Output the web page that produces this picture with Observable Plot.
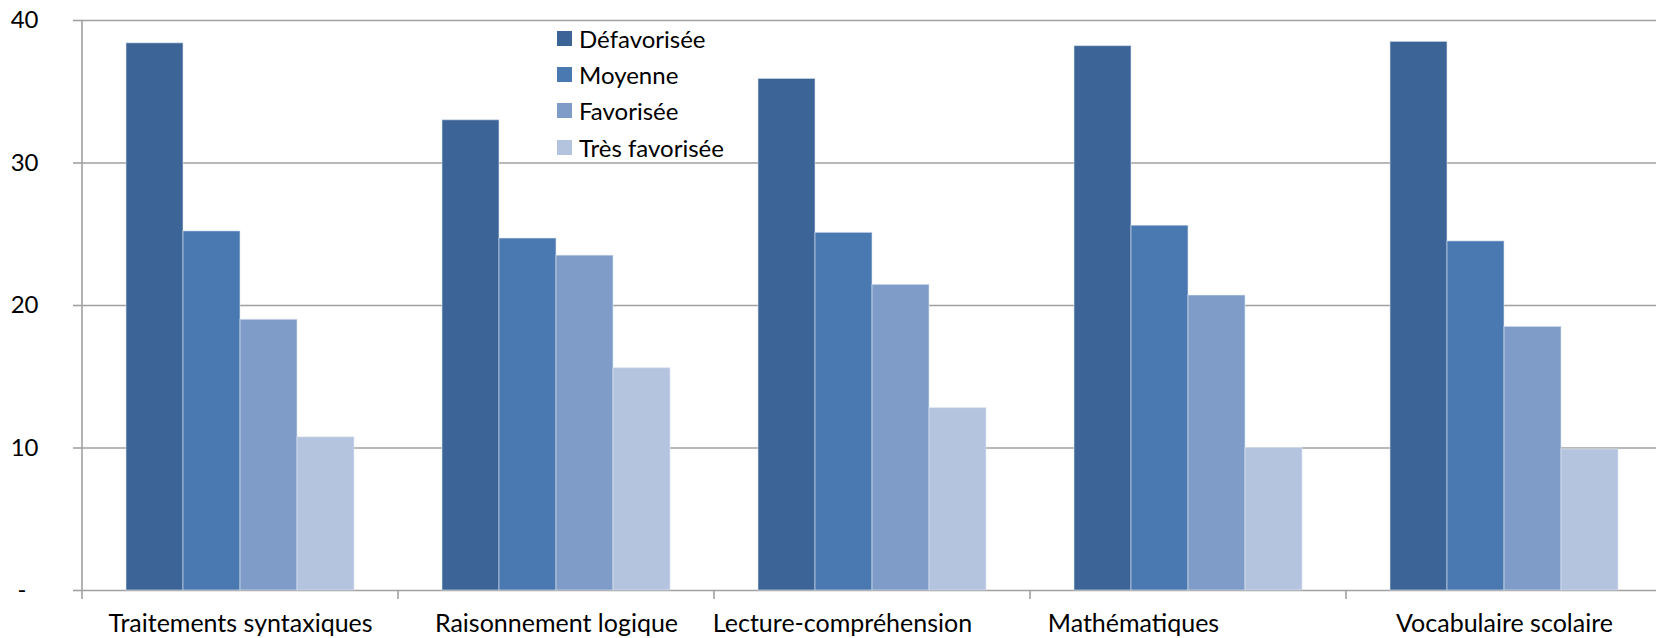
<!DOCTYPE html>
<html>
<head>
<meta charset="utf-8">
<script src="https://cdn.jsdelivr.net/npm/d3@7"></script>
<script src="https://cdn.jsdelivr.net/npm/@observablehq/plot@0.6"></script>
<style>
  body { margin: 0; background: white; }
  #wrap { position: relative; width: 1656px; height: 638px; overflow: hidden; font-family: Lato, sans-serif; }
  #legend { position: absolute; left: 557px; top: 23px; }
  .row { position: absolute; left: 0; height: 30px; display: flex; align-items: center; white-space: nowrap; font-size: 24px; color: #000; }
  .sw { width: 15px; height: 15px; margin-right: 7px; }
</style>
</head>
<body>
<div id="wrap"><div id="legend"></div></div>
<script>
const categories = ["Traitements syntaxiques", "Raisonnement logique", "Lecture-compréhension", "Mathématiques", "Vocabulaire scolaire"];
const series = ["Défavorisée", "Moyenne", "Favorisée", "Très favorisée"];
const defavorisee = [38.4, 33.0, 35.9, 38.2, 38.5];
const moyenne = [25.2, 24.7, 25.1, 25.6, 24.5];
const favorisee = [19.0, 23.5, 21.45, 20.7, 18.5];
const tresFavorisee = [10.75, 15.6, 12.8, 10.0, 9.9];
const colors = ["#3D6496", "#4A78B0", "#7F9CC8", "#B4C4DE"];
const yTicks = [0, 10, 20, 30, 40];

const seriesValues = [defavorisee, moyenne, favorisee, tresFavorisee];
const data = [];
categories.forEach((c, i) => series.forEach((s, j) => data.push({category: c, series: s, value: seriesValues[j][i]})));

const gridColor = "#a0a0a0";
const fxAxis = (ticks, dx) => Plot.axisFx({ticks, anchor: "bottom", tickSize: 0, tickPadding: 24, fontSize: 25, fill: "#000", label: null, dx});
const plot = Plot.plot({
  width: 1656,
  height: 638,
  marginLeft: 82,
  marginRight: -6,
  marginTop: 20,
  marginBottom: 48,
  style: {fontFamily: "Lato, sans-serif", fontSize: "24px", color: "#000", background: "white"},
  fx: {domain: categories, padding: 0, label: null},
  x: {domain: series, paddingInner: 0, paddingOuter: 0.76, axis: null, label: null},
  y: {domain: [0, 40], label: null},
  color: {domain: series, range: colors},
  marks: [
    Plot.ruleY(yTicks, {stroke: gridColor, strokeWidth: 1.6}),
    Plot.barY(data, {fx: "category", x: "series", y: "value", fill: "series", stroke: "#dfe7f3", strokeOpacity: 0.6, strokeWidth: 1}),
    Plot.axisY({ticks: yTicks, tickSize: 9, tickPadding: 35, stroke: gridColor, strokeWidth: 1.6, fontSize: 24, fill: "#000",
      tickFormat: d => d === 0 ? "-\u2002" : String(d)}),
    fxAxis([categories[0], categories[1], categories[4]], 0),
    fxAxis([categories[2]], -30),
    fxAxis([categories[3]], -55)
  ]
});

const svg = d3.select(plot);
const fx = plot.scale("fx");
const y = plot.scale("y");
const y0 = y.apply(0), y40 = y.apply(40);
const left = fx.apply(categories[0]);
svg.append("line").attr("x1", left).attr("x2", left).attr("y1", y40).attr("y2", y0 + 9)
  .attr("stroke", gridColor).attr("stroke-width", 1.6);
categories.forEach(c => {
  const xx = fx.apply(c) + fx.bandwidth;
  svg.append("line").attr("x1", xx).attr("x2", xx).attr("y1", y0).attr("y2", y0 + 9)
    .attr("stroke", gridColor).attr("stroke-width", 1.6);
});

const wrap = document.getElementById("wrap");
wrap.insertBefore(plot, wrap.firstChild);
const color = plot.scale("color");
const legend = d3.select("#legend");
series.forEach((s, i) => {
  const row = legend.append("div").attr("class", "row").style("top", (i * 36.4) + "px");
  row.append("div").attr("class", "sw").style("background", color.apply(s));
  row.append("span").text(s);
});
</script>
</body>
</html>
